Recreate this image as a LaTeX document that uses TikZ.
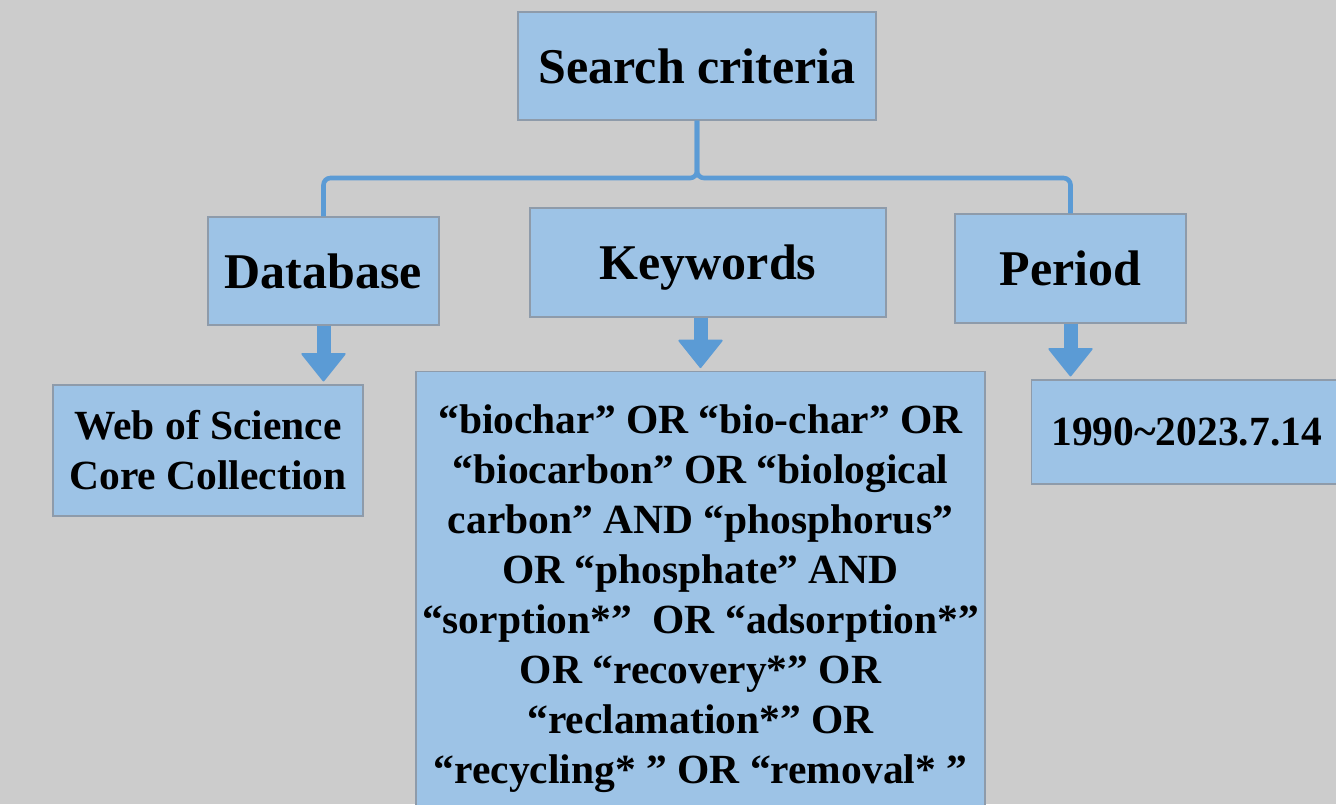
\documentclass[tikz,border=0pt]{standalone}
\usepackage{fontspec}
\setmainfont{Liberation Serif}
\usetikzlibrary{arrows.meta,positioning}
\definecolor{bggrey}{HTML}{CCCCCC}
\definecolor{boxblue}{HTML}{9DC3E6}
\definecolor{edgegrey}{HTML}{8E9BAA}
\definecolor{linkblue}{HTML}{5B9BD5}
\tikzstyle{box} = [draw=edgegrey, line width=1.2pt, fill=boxblue, align=center, inner sep=0pt]
\tikzstyle{bigtext} = [font=\bfseries\fontsize{50}{58}\selectfont]
\tikzstyle{smalltext} = [font=\bfseries\fontsize{41.5}{50}\selectfont]
\tikzstyle{arrow} = [line width=14pt, draw=linkblue, -{Triangle[width=46pt,length=29pt,line width=2pt,round]}, shorten >=3pt]
\tikzstyle{brace} = [line width=4.6pt, draw=linkblue, rounded corners=7pt]

\begin{document}
\begin{tikzpicture}[x=1pt,y=-1pt]
\useasboundingbox (0,0) rectangle (1336,804);
\fill[bggrey] (0,0) rectangle (1336,804);

\node[box,bigtext,minimum width=358pt,minimum height=108pt] (crit) at (697,66) {Search criteria};
\node[box,bigtext,minimum width=231pt,minimum height=108pt] (db) at (323.5,271) {Database};
\node[box,bigtext,minimum width=356pt,minimum height=109pt,text depth=0pt] (kw) at (708,262.5) {Keywords};
\node[box,bigtext,minimum width=231pt,minimum height=109pt] (per) at (1070.5,268.5) {Period};

\node[box,smalltext,minimum width=310pt,minimum height=131pt] (wos) at (208,450.5) {Web of Science\\Core Collection};
\node[box,smalltext,minimum width=569pt,inner ysep=33pt,anchor=north] (terms) at (700.5,371)
  {“biochar” OR “bio-char” OR\\
   “biocarbon” OR “biological\\
   carbon” AND “phosphorus”\\
   OR “phosphate” AND\\
   “sorption*”\ \ OR “adsorption*”\\
   OR “recovery*” OR\\
   “reclamation*” OR\\
   “recycling*\ ” OR “removal*\ ”};
\node[box,smalltext,minimum width=310pt,minimum height=104pt,anchor=west] (yr) at (1031,432) {1990\textasciitilde2023.7.14};

% fork from the top box
\coordinate (fork) at (697,178);
\draw[brace] (db.north) -- (db.north |- fork) -- (fork) -- (crit.south);
\draw[brace] (per.north) -- (per.north |- fork) -- (fork) -- (crit.south);

\draw[arrow] (db.south) -- (db.south |- wos.north);
\draw[arrow] (terms.north |- kw.south) -- (terms.north);
\draw[arrow] (per.south) -- (per.south |- yr.north);
\end{tikzpicture}
\end{document}
